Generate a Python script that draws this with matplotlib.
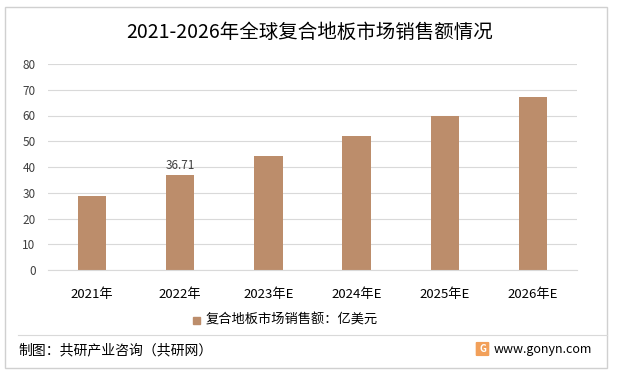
import matplotlib.pyplot as plt
from matplotlib.patches import Rectangle, FancyBboxPatch
from matplotlib.lines import Line2D

plt.rcParams['font.family'] = ['Noto Sans CJK SC', 'DejaVu Sans']

# chart data
years = ["2021年", "2022年", "2023年E", "2024年E", "2025年E", "2026年E"]
sales = [28.85, 36.71, 44.4, 52.2, 59.8, 67.2]
labelled = {1: "36.71"}

bar_color = "#BC8D6B"
grid_color = "#D9D9D9"
text_color = "#404040"

fig = plt.figure(figsize=(6.2, 3.79), dpi=100)
fig.patch.set_facecolor("white")

# outer frame and footer separator
fig.add_artist(Rectangle((5 / 620, 1 - 368 / 379), 602 / 620, 361 / 379,
                         transform=fig.transFigure, fill=False,
                         edgecolor="#D0D0D0", linewidth=1))
fig.add_artist(Line2D([18 / 620, 607 / 620], [1 - 335 / 379] * 2,
                      transform=fig.transFigure, color="#D9D9D9", linewidth=0.8))

ax = fig.add_axes([48 / 620, 1 - 270 / 379, 529 / 620, 206 / 379])
x = range(len(years))
ax.bar(x, sales, width=0.32, color=bar_color, zorder=2)
for i, txt in labelled.items():
    ax.text(i, sales[i] + 1.5, txt, ha="center", va="bottom",
            fontsize=8.5, color=text_color)

ax.set_xlim(-0.5, len(years) - 0.5)
ax.set_ylim(0, 80)
ax.set_yticks(range(0, 81, 10))
ax.set_xticks(list(x))
ax.set_xticklabels(years)
ax.grid(axis="y", color=grid_color, linewidth=0.8, zorder=0)
ax.tick_params(axis="y", length=0, labelsize=8.5, labelcolor=text_color, pad=9)
ax.tick_params(axis="x", length=0, labelsize=9.5, labelcolor="#000000", pad=13)
for s in ax.spines.values():
    s.set_visible(False)
ax.spines["bottom"].set_visible(True)
ax.spines["bottom"].set_color(grid_color)
ax.spines["bottom"].set_linewidth(0.8)

# title
fig.text(0.5, 1 - 32 / 379, "2021-2026年全球复合地板市场销售额情况",
         ha="center", va="center", fontsize=14, color="#000000")

# legend
fig.add_artist(Rectangle((193 / 620, 1 - 324 / 379), 7 / 620, 7 / 379,
                         transform=fig.transFigure, color=bar_color))
fig.text(206 / 620, 1 - 320 / 379, "复合地板市场销售额：亿美元",
         ha="left", va="center", fontsize=9.5, color="#000000")

# footer
fig.text(18 / 620, 1 - 350 / 379, "制图：共研产业咨询（共研网）",
         ha="left", va="center", fontsize=10, color="#000000")
fig.add_artist(FancyBboxPatch((477 / 620, 1 - 355 / 379), 11 / 620, 12 / 379,
                              boxstyle="round,pad=0.001",
                              transform=fig.transFigure, color="#F2A05A"))
fig.text(482.5 / 620, 1 - 349 / 379, "G", ha="center", va="center",
         fontsize=7, color="white", fontweight="bold")
fig.text(494 / 620, 1 - 349 / 379, "www.gonyn.com",
         ha="left", va="center", fontsize=9, color="#000000")

fig.savefig("out.png", dpi=100)
